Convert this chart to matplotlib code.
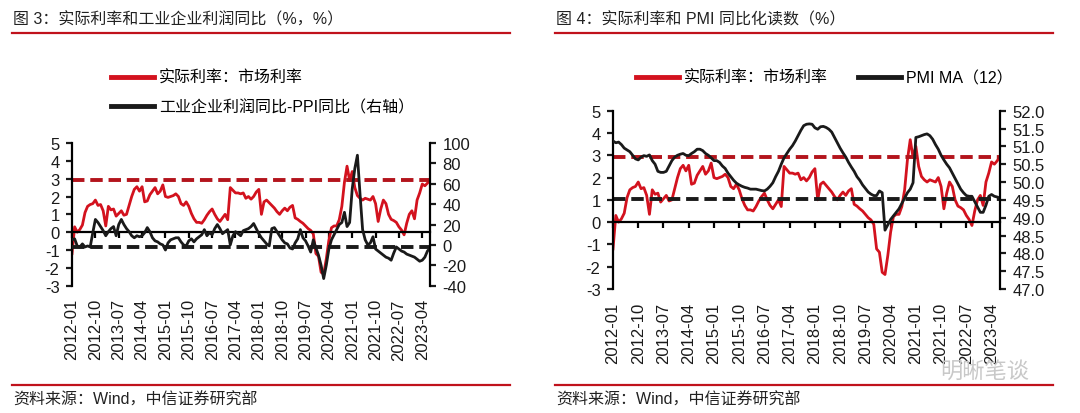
import matplotlib
matplotlib.use('Agg')
import matplotlib.pyplot as plt
from matplotlib.lines import Line2D
from matplotlib.ticker import FormatStrFormatter
import pandas as pd

plt.rcParams['font.family'] = ['Liberation Sans', 'Noto Sans CJK SC']
plt.rcParams['axes.unicode_minus'] = False

# monthly data, 2012-01 .. 2023-07
months = pd.date_range('2012-01', periods=139, freq='MS').strftime('%Y-%m').tolist()

# 实际利率：市场利率 (%)
real_rate = [
    -1.2, 0.3, 0.0, 0.15, 0.4, 1.1, 1.45, 1.55, 1.6, 1.8,
    1.5, 1.55, 1.2, 0.35, 1.45, 1.25, 1.3, 0.9, 1.05, 1.2,
    0.95, 1.0, 1.5, 2.0, 2.4, 2.55, 2.3, 2.55, 1.7, 1.75,
    2.1, 2.3, 2.5, 2.15, 2.3, 2.65, 2.0, 1.95, 2.0, 2.05,
    2.15, 2.0, 1.6, 1.5, 1.7, 1.45, 1.05, 0.75, 0.55, 0.55,
    0.5, 0.7, 0.95, 1.15, 1.3, 1.0, 0.75, 0.6, 0.8, 1.0,
    0.7, 2.5, 2.35, 2.2, 2.2, 2.15, 2.2, 1.9, 2.0, 1.85,
    2.0, 2.25, 2.4, 1.0, 1.7, 1.8, 1.65, 1.5, 1.35, 1.15,
    1.0, 1.2, 1.35, 1.2, 1.4, 1.5, 0.8, 0.72, 0.6, 0.5,
    0.35, 0.2, 0.1, -0.1, -1.2, -1.35, -2.25, -2.35, -1.5, -0.45,
    0.25, 0.35, 0.35, 0.7, 1.45, 2.8, 3.7, 2.9, 3.4, 2.5,
    2.05, 1.9, 1.8, 1.9, 1.85, 1.8, 2.0, 1.6, 0.6, 1.3,
    1.8, 1.6, 1.0, 0.72, 0.65, 0.55, 0.3, 0.12, -0.15, 0.5,
    1.0, 1.2, 0.75, 1.8, 2.2, 2.7, 2.6, 2.75, 2.95,
]

# 工业企业利润同比-PPI同比 (%, right axis)
profit_ppi = [
    5, 6, -1, -2, 1, -2, -1, -2, 12, 25,
    22, 18, 14, 9, 13, 16, 18, 9, 20, 25,
    20, 16, 13, 9, 7, 9, 8, 9, 12, 17,
    13, 7, 4, 3, 1, 0, -5, 2, 5, 6,
    7, 7, 3, 0, -1, 4, 6, 3, 6, 8,
    10, 15, 9, 12, 10, 16, 20, 16, 11, 13,
    15, 0, 9, 13, 11, 9, 14, 15, 16, 18,
    21, 16, 11, 7, 4, 1, -1, 16, 17, 13,
    9, 5, 2, 1, -3, -4, 2, 6, 15, 7,
    4, -1, -7, 5, -3, -10, -20, -33, -20, -4,
    5, 10, 15, 20, 22, 32, 18, 22, 55, 75,
    88, 50, 15, 5, 0, 2, 8, -4, -6, -8,
    -10, -12, -13, -15, -8, -2, -4, -6, -7, -9,
    -10, -11, -12, -14, -16, -15, -12, -6, -3,
]

# PMI MA(12)
pmi_ma12 = [
    51.15, 51.1, 51.12, 51.05, 50.95, 50.9, 50.85, 50.75, 50.65, 50.62,
    50.7, 50.74, 50.72, 50.76, 50.6, 50.5, 50.3, 50.27, 50.27, 50.3,
    50.45, 50.6, 50.7, 50.75, 50.78, 50.8, 50.75, 50.74, 50.8, 50.85,
    50.92, 50.92, 50.88, 50.8, 50.75, 50.68, 50.6, 50.6, 50.55, 50.45,
    50.38, 50.25, 50.15, 50.05, 49.97, 49.92, 49.88, 49.85, 49.83, 49.8,
    49.8, 49.8, 49.78, 49.76, 49.75, 49.8, 49.88, 49.98, 50.15, 50.3,
    50.5, 50.68, 50.8, 50.92, 51.02, 51.15, 51.3, 51.45, 51.58, 51.62,
    51.63, 51.62, 51.52, 51.48, 51.55, 51.56, 51.53, 51.48, 51.4, 51.25,
    51.1, 50.95, 50.82, 50.7, 50.55, 50.42, 50.3, 50.15, 50.05, 49.92,
    49.82, 49.72, 49.66, 49.62, 49.62, 49.75, 49.7, 48.65, 48.8, 48.95,
    49.05, 49.15, 49.25, 49.4, 49.55, 49.7, 49.8, 49.98, 51.25, 51.27,
    51.3, 51.33, 51.35, 51.3, 51.2, 51.05, 50.92, 50.75, 50.62, 50.5,
    50.4, 50.25, 50.1, 49.95, 49.8, 49.7, 49.62, 49.6, 49.6, 49.45,
    49.3, 49.15, 49.15, 49.35, 49.6, 49.65, 49.6, 49.58, 49.55,
]

real_rate_ref = 2.92    # red dashed line (left axis)
profit_ref = -2.3       # black dashed line, left panel (right axis)
pmi_ref = 1.05          # black dashed line, right panel (left axis)

RED = '#d3121e'
DRED = '#b3141c'
RULE = '#c0121c'
BLK = '#1a1a1a'
FS = 11.5
TFS = 12

x = list(range(len(months)))
tick_pos = x[::9]
tick_lab = months[::9]

fig = plt.figure(figsize=(10.8, 4.14), dpi=100)


def style_pair(ax, axr):
    for s in ['top', 'right']:
        ax.spines[s].set_visible(False)
    for s in ['top', 'left', 'bottom']:
        axr.spines[s].set_visible(False)
    ax.spines['left'].set_linewidth(1.6)
    axr.spines['right'].set_linewidth(1.6)
    ax.spines['bottom'].set_position(('data', 0))
    ax.spines['bottom'].set_linewidth(1.6)
    ax.set_xlim(0, len(x) - 1)
    ax.set_xticks(tick_pos)
    ax.tick_params(axis='x', direction='out', length=4, width=1.6, labelbottom=False)
    ax.tick_params(axis='y', direction='out', length=4, width=1.6, labelsize=TFS, colors=BLK, pad=5)
    axr.tick_params(axis='y', direction='out', length=4, width=1.6, labelsize=TFS, colors=BLK, pad=5)
    sec = ax.secondary_xaxis('bottom')
    sec.set_xticks(tick_pos, labels=tick_lab, rotation=90)
    sec.tick_params(length=0, labelsize=TFS, pad=9, colors=BLK)
    sec.spines['bottom'].set_visible(False)
    ax.set_ylim(-3, 5)
    ax.set_yticks(range(-3, 6))


# ---- 图3 ----
ax1 = fig.add_axes([0.0667, 0.3075, 0.3315, 0.3447])
ax1r = ax1.twinx()
style_pair(ax1, ax1r)
ax1.plot(x, real_rate, color=RED, lw=2.0)
ax1.axhline(real_rate_ref, color=DRED, lw=2.8, ls=(0, (3.2, 1.5)))
ax1r.plot(x, profit_ppi, color=BLK, lw=2.0)
ax1r.axhline(profit_ref, color=BLK, lw=2.8, ls=(0, (3.2, 1.5)))
ax1r.set_ylim(-40, 100)
ax1r.set_yticks(range(-40, 101, 20))

h1 = [Line2D([], [], color=RED, lw=3.5), Line2D([], [], color=BLK, lw=3.5)]
fig.legend(h1, ['实际利率：市场利率', '工业企业利润同比-PPI同比（右轴）'],
           loc='upper left', bbox_to_anchor=(103 / 1080, 1 - 63 / 414), frameon=False,
           fontsize=FS, handlelength=2.7, handletextpad=0.3, labelspacing=0.85, borderpad=0)

# ---- 图4 ----
ax2 = fig.add_axes([0.5676, 0.2995, 0.3583, 0.4307])
ax2r = ax2.twinx()
style_pair(ax2, ax2r)
ax2.plot(x, real_rate, color=RED, lw=2.0)
ax2.axhline(real_rate_ref, color=DRED, lw=2.8, ls=(0, (3.2, 1.5)))
ax2.axhline(pmi_ref, color=BLK, lw=2.8, ls=(0, (3.2, 1.5)))
ax2r.plot(x, pmi_ma12, color=BLK, lw=2.0)
ax2r.set_ylim(47, 52)
ax2r.set_yticks([47 + 0.5 * k for k in range(11)])
ax2r.yaxis.set_major_formatter(FormatStrFormatter('%.1f'))

h2 = [Line2D([], [], color=RED, lw=3.5), Line2D([], [], color=BLK, lw=3.5)]
fig.legend(h2, ['实际利率：市场利率', 'PMI MA（12）'],
           loc='upper left', bbox_to_anchor=(628 / 1080, 1 - 63 / 414), frameon=False, ncol=2,
           fontsize=FS, handlelength=2.7, handletextpad=0.3, columnspacing=1.9, borderpad=0)

# titles, rules, sources
for x0, x1, title in [(12, 510, '图 3：实际利率和工业企业利润同比（%，%）'),
                      (555, 1053, '图 4：实际利率和 PMI 同比化读数（%）')]:
    fig.text((x0 + 1) / 1080, 1 - 20 / 414, title, fontsize=FS, color='#222222', va='center')
    fig.add_artist(Line2D([x0 / 1080, x1 / 1080], [1 - 34 / 414] * 2, color=RULE, lw=1.6))
    fig.add_artist(Line2D([x0 / 1080, x1 / 1080], [1 - 386 / 414] * 2, color=RULE, lw=1.6))
    fig.text((x0 + 1) / 1080, 1 - 400 / 414, '资料来源：Wind，中信证券研究部',
             fontsize=FS, color='#222222', va='center')

# watermark
fig.text(940 / 1080, 1 - 372 / 414, '明晰笔谈', fontsize=16, color='#c8c8c8', va='center')

fig.savefig('out.png', dpi=100)
